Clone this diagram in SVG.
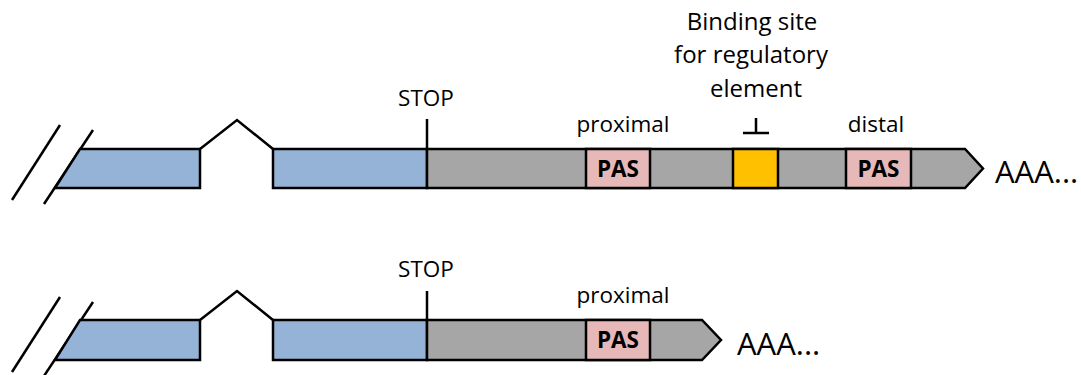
<svg xmlns="http://www.w3.org/2000/svg" width="1081" height="375" viewBox="0 0 1081 375">
  <style>
    .ln { fill: none; stroke: #000; stroke-width: 2.5; stroke-linejoin: miter; }
    .exon { fill: #95B3D7; stroke: #000; stroke-width: 2.5; }
    .utr { fill: #A6A6A6; stroke: #000; stroke-width: 2.5; }
    .pas { fill: #E6B9B8; stroke: #000; stroke-width: 2.5; }
    .bind { fill: #FFC000; stroke: #000; stroke-width: 2.5; }
    .lbl { font-family: "Open Sans", "Noto Sans", sans-serif; font-size: 22.5px; fill: #000; text-anchor: middle; }
    .note { font-family: "Open Sans", "Noto Sans", sans-serif; font-size: 24px; fill: #000; text-anchor: middle; }
    .pasT { font-family: "Open Sans", "Noto Sans", sans-serif; font-size: 22.5px; font-weight: bold; fill: #000; text-anchor: middle; }
    .tail { font-family: "Open Sans", "Noto Sans", sans-serif; font-size: 31px; fill: #000; }
  </style>

  <!-- Long isoform: full 3' UTR with proximal and distal PAS -->
  <g id="long-isoform">
    <g id="long-break">
      <line class="ln" x1="12" y1="200" x2="60" y2="125"/>
      <line class="ln" x1="44" y1="204" x2="93" y2="130"/>
    </g>
    <polygon id="long-exon1" class="exon" points="80,149 200,149 200,188 55,188"/>
    <polyline id="long-intron" class="ln" points="200,149 237,120 273,149"/>
    <rect id="long-exon2" class="exon" x="273" y="149" width="154" height="39"/>
    <polygon id="long-utr" class="utr" points="427,149 965,149 983,168.5 965,188 427,188"/>
    <g id="long-pas-prox">
      <rect class="pas" x="586" y="149" width="64" height="39"/>
      <text class="pasT" x="618" y="177">PAS</text>
    </g>
    <rect id="long-binding" class="bind" x="733" y="149" width="45" height="39"/>
    <g id="long-pas-dist">
      <rect class="pas" x="846" y="149" width="65" height="39"/>
      <text class="pasT" x="878.5" y="177">PAS</text>
    </g>
    <g id="long-labels">
      <line class="ln" x1="427" y1="119" x2="427" y2="149"/>
      <text class="lbl" x="426" y="106">STOP</text>
      <text class="lbl" x="623" y="132">proximal</text>
      <text class="note" x="752" y="30">Binding site</text>
      <text class="note" x="751" y="63">for regulatory</text>
      <text class="note" x="756" y="97">element</text>
      <path class="ln" d="M743,133 H769 M756,118 V133"/>
      <text class="lbl" x="876" y="132">distal</text>
      <text class="tail" x="995" y="183">AAA...</text>
    </g>
  </g>

  <!-- Short isoform: 3' UTR ending after the proximal PAS -->
  <g id="short-isoform">
    <g id="short-break">
      <line class="ln" x1="12" y1="372" x2="60" y2="297"/>
      <line class="ln" x1="44" y1="376" x2="93" y2="302"/>
    </g>
    <polygon id="short-exon1" class="exon" points="80,320 200,320 200,360 55,360"/>
    <polyline id="short-intron" class="ln" points="200,320 237,291 273,320"/>
    <rect id="short-exon2" class="exon" x="273" y="320" width="154" height="40"/>
    <polygon id="short-utr" class="utr" points="427,320 702,320 721,340 702,360 427,360"/>
    <g id="short-pas-prox">
      <rect class="pas" x="586" y="320" width="64" height="40"/>
      <text class="pasT" x="618" y="348">PAS</text>
    </g>
    <g id="short-labels">
      <line class="ln" x1="427" y1="291" x2="427" y2="320"/>
      <text class="lbl" x="426" y="277">STOP</text>
      <text class="lbl" x="623" y="303">proximal</text>
      <text class="tail" x="737" y="355">AAA...</text>
    </g>
  </g>
</svg>
